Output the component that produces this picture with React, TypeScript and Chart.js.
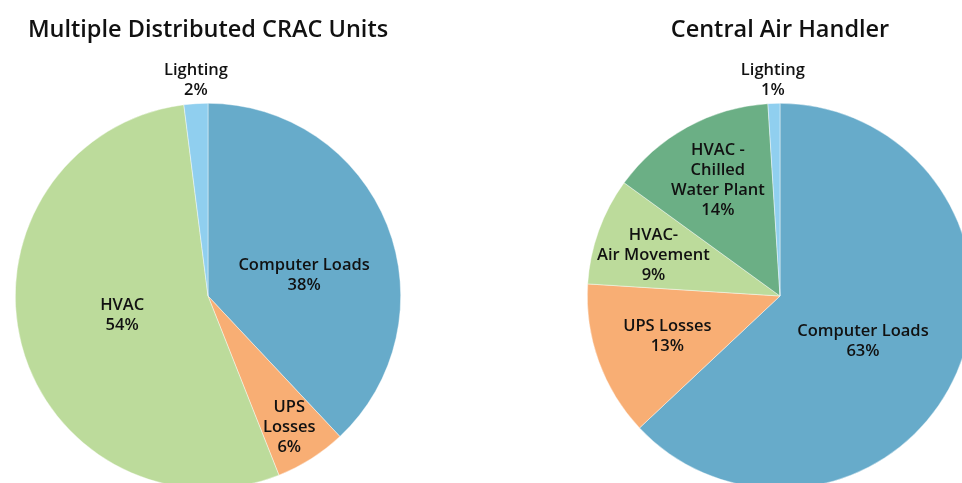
import React, { useEffect, useRef } from "react";
import { Chart, registerables } from "chart.js";

Chart.register(...registerables);

const leftTitle = "Multiple Distributed CRAC Units";
const leftCategories = ["Computer Loads", "UPS Losses", "HVAC", "Lighting"];
const leftLabelLines = [["Computer Loads"], ["UPS", "Losses"], ["HVAC"], ["Lighting"]];
const leftValues = [38, 6, 54, 2];
const leftColors = ["#67ABCA", "#F8AE74", "#BCDB9B", "#90CFEF"];
// label placement: [radius fraction, angle shift in degrees]
const leftPlacement = [[0.51, 9.5], [0.8, 0.6], [0.456, 2], [1.12, 0.4]];

const rightTitle = "Central Air Handler";
const rightCategories = ["Computer Loads", "UPS Losses", "HVAC- Air Movement", "HVAC - Chilled Water Plant", "Lighting"];
const rightLabelLines = [["Computer Loads"], ["UPS Losses"], ["HVAC-", "Air Movement"], ["HVAC -", "Chilled", "Water Plant"], ["Lighting"]];
const rightValues = [63, 13, 9, 14, 1];
const rightColors = ["#67ABCA", "#F8AE74", "#BCDB9B", "#6BAF85", "#90CFEF"];
const rightPlacement = [[0.49, 5.1], [0.62, 0.3], [0.69, -1.9], [0.68, 0.5], [1.12, -0.1]];

const FONT = "'Open Sans', Lato, sans-serif";

function makeLabelPlugin(lines: string[][], placement: number[][]) {
  return {
    id: "sliceLabels",
    afterDatasetsDraw(chart: any) {
      const ctx = chart.ctx;
      const meta = chart.getDatasetMeta(0);
      const data = chart.data.datasets[0].data as number[];
      ctx.save();
      ctx.fillStyle = "#111111";
      ctx.font = `600 16.5px ${FONT}`;
      ctx.textAlign = "center";
      ctx.textBaseline = "middle";
      meta.data.forEach((arc: any, i: number) => {
        const p = arc.getProps(["x", "y", "startAngle", "endAngle", "outerRadius"], true);
        const [frac, shift] = placement[i];
        const mid = (p.startAngle + p.endAngle) / 2 + (shift * Math.PI) / 180;
        const r = p.outerRadius * frac;
        const cx = p.x + Math.cos(mid) * r;
        const cy = p.y + Math.sin(mid) * r;
        const all = [...lines[i], `${data[i]}%`];
        const lh = 20;
        const top = cy - ((all.length - 1) * lh) / 2;
        all.forEach((t, k) => ctx.fillText(t, cx, top + k * lh));
      });
      ctx.restore();
    },
  };
}

function PieCanvas(props: {
  left: number; width: number; padLeft: number;
  categories: string[]; values: number[]; colors: string[];
  lines: string[][]; placement: number[][];
}) {
  const ref = useRef<HTMLCanvasElement | null>(null);
  const height = 500;
  const size = 386;
  const padTop = 103;
  useEffect(() => {
    if (!ref.current) return;
    const chart = new Chart(ref.current, {
      type: "pie",
      data: {
        labels: props.categories,
        datasets: [{
          data: props.values,
          backgroundColor: props.colors,
          borderColor: "rgba(255,255,255,0.7)",
          borderWidth: 0.6,
          hoverOffset: 0,
        }],
      },
      options: {
        responsive: false,
        animation: false,
        devicePixelRatio: 1,
        layout: {
          padding: {
            top: padTop,
            left: props.padLeft,
            right: props.width - props.padLeft - size,
            bottom: height - padTop - size,
          },
        },
        plugins: {
          legend: { display: false },
          tooltip: { enabled: false },
        },
      },
      plugins: [makeLabelPlugin(props.lines, props.placement)],
    });
    return () => chart.destroy();
  }, []);
  return (
    <canvas
      ref={ref}
      width={props.width}
      height={height}
      style={{ position: "absolute", left: props.left, top: 0, width: props.width, height }}
    />
  );
}

export default function App() {
  const titleStyle: React.CSSProperties = {
    position: "absolute",
    top: 11,
    fontFamily: FONT,
    fontSize: 23.5,
    fontWeight: 600,
    color: "#111111",
    textAlign: "center",
    width: 480,
    lineHeight: "34px",
    whiteSpace: "nowrap",
  };
  return (
    <div style={{ position: "fixed", left: 0, top: 0, width: 962, height: 483, overflow: "hidden", background: "#ffffff" }}>
      <PieCanvas left={0} width={481} padLeft={15} categories={leftCategories} values={leftValues}
        colors={leftColors} lines={leftLabelLines} placement={leftPlacement} />
      <PieCanvas left={481} width={520} padLeft={106} categories={rightCategories} values={rightValues}
        colors={rightColors} lines={rightLabelLines} placement={rightPlacement} />
      <div style={{ ...titleStyle, left: 208 - 240 }}>{leftTitle}</div>
      <div style={{ ...titleStyle, left: 780 - 240 }}>{rightTitle}</div>
    </div>
  );
}
